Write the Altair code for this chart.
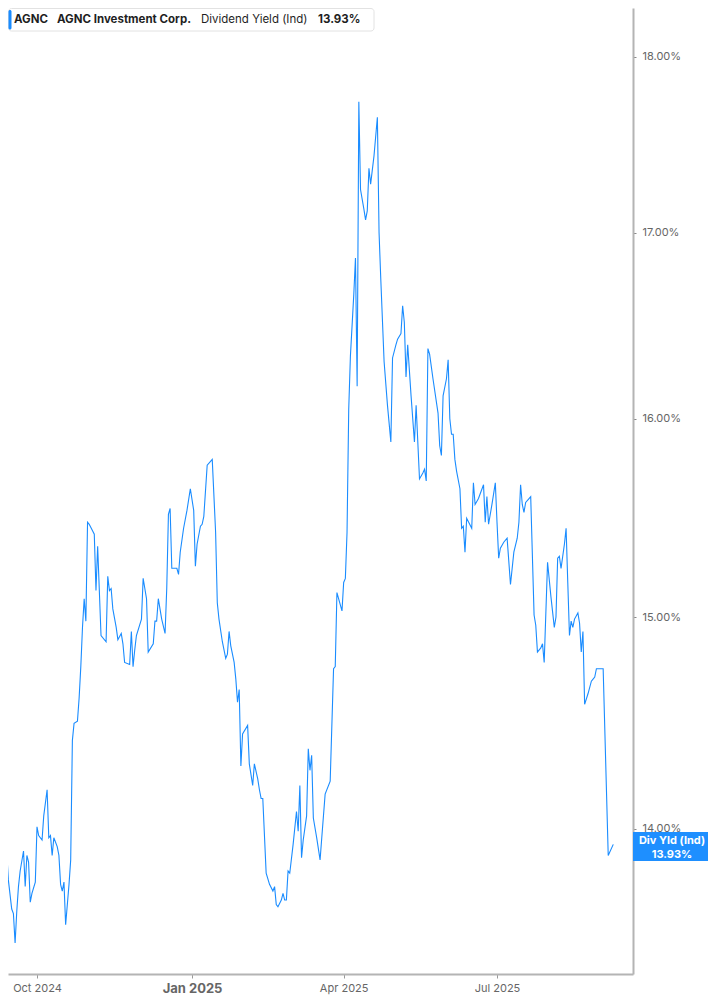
import altair as alt
import pandas as pd

dates = [
    "2024-09-09", "2024-09-10", "2024-09-11", "2024-09-12", "2024-09-13", "2024-09-14",
    "2024-09-16", "2024-09-17", "2024-09-18", "2024-09-19", "2024-09-20", "2024-09-21",
    "2024-09-23", "2024-09-24", "2024-09-25", "2024-09-26", "2024-09-27", "2024-09-28",
    "2024-09-30", "2024-10-01", "2024-10-02", "2024-10-04", "2024-10-05", "2024-10-07",
    "2024-10-08", "2024-10-09", "2024-10-10", "2024-10-11", "2024-10-13", "2024-10-14",
    "2024-10-15", "2024-10-16", "2024-10-17", "2024-10-18", "2024-10-20", "2024-10-21",
    "2024-10-22", "2024-10-23", "2024-10-25", "2024-10-26", "2024-10-27", "2024-10-28",
    "2024-10-29", "2024-10-30", "2024-10-31", "2024-11-01", "2024-11-04", "2024-11-05",
    "2024-11-06", "2024-11-08", "2024-11-11", "2024-11-12", "2024-11-13", "2024-11-14",
    "2024-11-15", "2024-11-17", "2024-11-18", "2024-11-20", "2024-11-21", "2024-11-22",
    "2024-11-25", "2024-11-26", "2024-11-27", "2024-11-28", "2024-11-29", "2024-12-02",
    "2024-12-03", "2024-12-05", "2024-12-06", "2024-12-09", "2024-12-10", "2024-12-11",
    "2024-12-12", "2024-12-14", "2024-12-16", "2024-12-17", "2024-12-18", "2024-12-19",
    "2024-12-20", "2024-12-23", "2024-12-24", "2024-12-25", "2024-12-27", "2024-12-29",
    "2024-12-31", "2025-01-02", "2025-01-03", "2025-01-04", "2025-01-06", "2025-01-07",
    "2025-01-08", "2025-01-10", "2025-01-12", "2025-01-13", "2025-01-15", "2025-01-16",
    "2025-01-17", "2025-01-19", "2025-01-21", "2025-01-22", "2025-01-23", "2025-01-24",
    "2025-01-26", "2025-01-27", "2025-01-28", "2025-01-29", "2025-01-30", "2025-01-31",
    "2025-02-03", "2025-02-04", "2025-02-06", "2025-02-07", "2025-02-09", "2025-02-10",
    "2025-02-11", "2025-02-12", "2025-02-14", "2025-02-16", "2025-02-18", "2025-02-19",
    "2025-02-20", "2025-02-21", "2025-02-23", "2025-02-24", "2025-02-25", "2025-02-26",
    "2025-02-27", "2025-02-28", "2025-03-02", "2025-03-04", "2025-03-05", "2025-03-06",
    "2025-03-07", "2025-03-08", "2025-03-10", "2025-03-11", "2025-03-12", "2025-03-13",
    "2025-03-14", "2025-03-16", "2025-03-18", "2025-03-19", "2025-03-21", "2025-03-24",
    "2025-03-26", "2025-03-27", "2025-03-28", "2025-03-31", "2025-04-01", "2025-04-02",
    "2025-04-03", "2025-04-04", "2025-04-05", "2025-04-07", "2025-04-08", "2025-04-09",
    "2025-04-10", "2025-04-11", "2025-04-13", "2025-04-14", "2025-04-15", "2025-04-16",
    "2025-04-17", "2025-04-19", "2025-04-21", "2025-04-22", "2025-04-23", "2025-04-25",
    "2025-04-27", "2025-04-29", "2025-04-30", "2025-05-02", "2025-05-03", "2025-05-05",
    "2025-05-06", "2025-05-07", "2025-05-08", "2025-05-09", "2025-05-11", "2025-05-13",
    "2025-05-14", "2025-05-16", "2025-05-18", "2025-05-19", "2025-05-20", "2025-05-21",
    "2025-05-22", "2025-05-24", "2025-05-27", "2025-05-28", "2025-05-29", "2025-05-30",
    "2025-06-01", "2025-06-02", "2025-06-03", "2025-06-04", "2025-06-05", "2025-06-06",
    "2025-06-07", "2025-06-09", "2025-06-10", "2025-06-11", "2025-06-12", "2025-06-13",
    "2025-06-16", "2025-06-17", "2025-06-18", "2025-06-20", "2025-06-23", "2025-06-24",
    "2025-06-25", "2025-06-26", "2025-06-28", "2025-06-30", "2025-07-01", "2025-07-02",
    "2025-07-03", "2025-07-05", "2025-07-07", "2025-07-09", "2025-07-11", "2025-07-13",
    "2025-07-14", "2025-07-15", "2025-07-16", "2025-07-17", "2025-07-18", "2025-07-20",
    "2025-07-21", "2025-07-23", "2025-07-24", "2025-07-25", "2025-07-27", "2025-07-28",
    "2025-07-29", "2025-07-31", "2025-08-02", "2025-08-04", "2025-08-05", "2025-08-06",
    "2025-08-07", "2025-08-08", "2025-08-10", "2025-08-11", "2025-08-12", "2025-08-13",
    "2025-08-14", "2025-08-15", "2025-08-16", "2025-08-18", "2025-08-19", "2025-08-20",
    "2025-08-21", "2025-08-22", "2025-08-24", "2025-08-26", "2025-08-27", "2025-08-28",
    "2025-08-29", "2025-09-02", "2025-09-05", "2025-09-08",
]

div_yield = [
    14.10, 14.03, 14.14, 14.08, 13.90, 13.77,
    13.64, 13.62, 13.49, 13.63, 13.74, 13.81,
    13.90, 13.74, 13.88, 13.85, 13.67, 13.71,
    13.76, 14.01, 13.97, 13.95, 14.06, 14.18,
    13.96, 13.97, 13.88, 13.96, 13.92, 13.88,
    13.75, 13.72, 13.76, 13.57, 13.75, 13.86,
    14.41, 14.49, 14.50, 14.61, 14.76, 14.95,
    15.09, 14.98, 15.47, 15.46, 15.41, 15.13,
    15.35, 14.91, 14.88, 15.20, 15.13, 15.14,
    15.04, 14.95, 14.89, 14.92, 14.87, 14.78,
    14.77, 14.93, 14.76, 14.84, 14.91, 14.99,
    15.19, 15.09, 14.83, 14.87, 14.98, 14.98,
    15.09, 14.99, 14.92, 15.14, 15.51, 15.54,
    15.24, 15.24, 15.21, 15.32, 15.44, 15.53,
    15.64, 15.53, 15.25, 15.36, 15.45, 15.46,
    15.50, 15.76, 15.78, 15.79, 15.42, 15.07,
    14.99, 14.88, 14.80, 14.82, 14.93, 14.86,
    14.78, 14.70, 14.59, 14.65, 14.29, 14.44,
    14.48, 14.30, 14.20, 14.30, 14.23, 14.18,
    14.14, 14.14, 13.80, 13.75, 13.72, 13.74,
    13.66, 13.65, 13.68, 13.71, 13.68, 13.68,
    13.81, 13.80, 13.93, 14.08, 13.99, 14.20,
    13.87, 13.95, 14.06, 14.37, 14.27, 14.34,
    14.05, 13.96, 13.86, 13.96, 14.16, 14.22,
    14.75, 14.76, 15.12, 15.03, 15.17, 15.19,
    15.42, 16.05, 16.33, 16.66, 16.86, 16.17,
    17.74, 17.24, 17.13, 17.07, 17.12, 17.36,
    17.27, 17.43, 17.65, 17.00, 16.75, 16.30,
    16.07, 15.88, 16.32, 16.39, 16.42, 16.45,
    16.60, 16.51, 16.22, 16.39, 16.12, 15.88,
    16.07, 15.69, 15.72, 15.74, 15.68, 16.37,
    16.34, 16.21, 16.03, 15.86, 15.81, 16.12,
    16.21, 16.31, 16.00, 15.92, 15.92, 15.79,
    15.73, 15.64, 15.44, 15.45, 15.32, 15.49,
    15.44, 15.67, 15.56, 15.59, 15.66, 15.47,
    15.60, 15.46, 15.56, 15.67, 15.47, 15.29,
    15.34, 15.37, 15.39, 15.16, 15.32, 15.39,
    15.47, 15.66, 15.56, 15.52, 15.57, 15.59,
    15.60, 15.01, 14.96, 14.83, 14.85, 14.87,
    14.78, 15.27, 15.10, 14.95, 15.00, 15.29,
    15.30, 15.24, 15.36, 15.44, 15.17, 14.91,
    14.98, 14.95, 14.99, 15.02, 14.97, 14.83,
    14.93, 14.58, 14.63, 14.69, 14.70, 14.71,
    14.75, 14.75, 13.88, 13.93,
]

y_ticks = [14, 15, 16, 17, 18]
ticker = "AGNC"
company = "AGNC Investment Corp."
metric = "Dividend Yield (Ind)"
last_value = "13.93%"
badge_line1 = "Div Yld (Ind)"

df = pd.DataFrame({"date": dates, "value": div_yield})

FONT = "Inter"
BLUE = "#1a8cff"
W, H = 625, 966

x_scale = alt.Scale(
    type="utc",
    domain=[
        alt.DateTime(year=2024, month=9, date=13, hours=19, utc=True),
        alt.DateTime(year=2025, month=9, date=19, hours=17, utc=True),
    ],
)
y_scale = alt.Scale(type="log", domain=[13.3545, 18.2894], nice=False, zero=False)

x_axis = alt.Axis(
    title=None,
    grid=False,
    values=[
        alt.DateTime(year=2024, month=10, date=1, utc=True),
        alt.DateTime(year=2025, month=1, date=1, utc=True),
        alt.DateTime(year=2025, month=4, date=1, utc=True),
        alt.DateTime(year=2025, month=7, date=1, utc=True),
    ],
    labelExpr="utcFormat(datum.value, '%b %Y')",
    labelFlush=False,
    labelOverlap=False,
    labelFont=FONT,
    labelFontSize={"condition": {"test": "utcmonth(datum.value) === 0", "value": 13}, "value": 11},
    labelFontWeight={"condition": {"test": "utcmonth(datum.value) === 0", "value": "bold"}, "value": "normal"},
    labelColor="#666666",
    labelPadding=4,
    tickSize=4,
    tickColor="#9a9a9a",
    domainColor="#b4b4b4",
    domainWidth=2,
)

y_axis = alt.Axis(
    orient="right",
    title=None,
    grid=False,
    values=y_ticks,
    labelExpr="format(datum.value, '.2f') + '%'",
    labelFont=FONT,
    labelFontSize=11,
    labelColor="#666666",
    labelPadding=6,
    tickSize=3,
    tickColor="#888888",
    domainColor="#b4b4b4",
    domainWidth=2,
)

line = alt.Chart(df).mark_line(color=BLUE, strokeWidth=1.1, clip=True).encode(
    x=alt.X("date:T", scale=x_scale, axis=x_axis),
    y=alt.Y("value:Q", scale=y_scale, axis=y_axis),
)

one = alt.Data(values=[{}])

header_box = alt.Chart(one).mark_rect(
    fill="white", stroke="#e2e2e2", strokeWidth=1, cornerRadius=3
).encode(x=alt.value(0.5), x2=alt.value(366), y=alt.value(0.5), y2=alt.value(23))

header_bar = alt.Chart(one).mark_rect(fill=BLUE, cornerRadius=1.5).encode(
    x=alt.value(0.5), x2=alt.value(3.5), y=alt.value(2), y2=alt.value(21.5)
)


def htext(label, xpos, weight):
    return alt.Chart(one).mark_text(
        align="left", baseline="middle", font=FONT, fontSize=11.5,
        fontWeight=weight, color="#1f1f1f",
    ).encode(x=alt.value(xpos), y=alt.value(12), text=alt.value(label))


badge = alt.Chart(one).mark_rect(fill="#1e8fff").encode(
    x=alt.value(625), x2=alt.value(700), y=alt.value(824), y2=alt.value(853)
)


def btext(label, ypos):
    return alt.Chart(one).mark_text(
        align="center", baseline="middle", font=FONT, fontSize=11,
        fontWeight="bold", color="white",
    ).encode(x=alt.value(664), y=alt.value(ypos), text=alt.value(label))


chart = alt.layer(
    line,
    header_box,
    header_bar,
    htext(ticker, 6, "bold"),
    htext(company, 49, "bold"),
    htext(metric, 193, "normal"),
    htext(last_value, 310, "bold"),
    badge,
    btext(badge_line1, 833),
    btext(last_value, 847),
).properties(
    width=W,
    height=H,
    padding={"left": 0, "top": 0, "right": 0, "bottom": 0},
    background="white",
).configure_view(strokeWidth=0)

chart.save("out.html", embed_options={"renderer": "svg", "actions": False})
